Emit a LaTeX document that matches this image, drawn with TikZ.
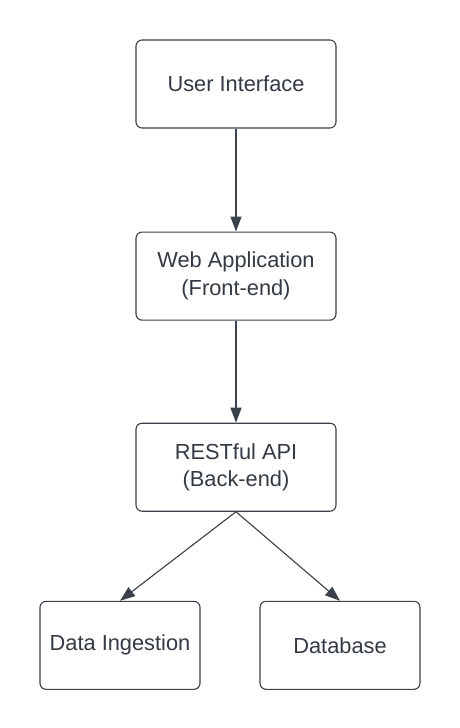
\documentclass[tikz,border=0pt]{standalone}
\usepackage{fontspec}
\setmainfont{Liberation Sans}
\usepackage{tikz}
\usetikzlibrary{positioning, arrows.meta}

\definecolor{linegray}{RGB}{58,65,74}
\definecolor{textgray}{RGB}{51,58,68}

\begin{document}
\begin{tikzpicture}[
  x=1pt, y=1pt,
  every node/.style={align=center, font=\fontsize{21.8}{27.5}\selectfont, text=textgray},
  box/.style={draw=linegray, line width=1.1pt, rounded corners=6pt, fill=white, minimum width=200pt, minimum height=88pt},
  smallbox/.style={box, minimum width=160pt},
  arrow/.style={-{Triangle[length=15pt,width=11pt]}, draw=linegray, fill=linegray, line width=1.1pt}
]
\useasboundingbox (0,0) rectangle (460,-728);

\node[box] (ui) at (236,-84) {User Interface};
\node[box, below=103pt of ui] (web) {Web Application\\(Front-end)};
\node[box, below=102pt of web] (api) {RESTful API\\(Back-end)};
\node[smallbox, below=89pt of api, xshift=-116pt] (ingest) {Data Ingestion};
\node[smallbox, below=89pt of api, xshift=104pt] (db) {Database};

\draw[arrow] (ui) -- (web);
\draw[arrow] (web) -- (api);
\draw[arrow] (api.south) -- (ingest.north);
\draw[arrow] (api.south) -- (db.north);
\end{tikzpicture}
\end{document}
